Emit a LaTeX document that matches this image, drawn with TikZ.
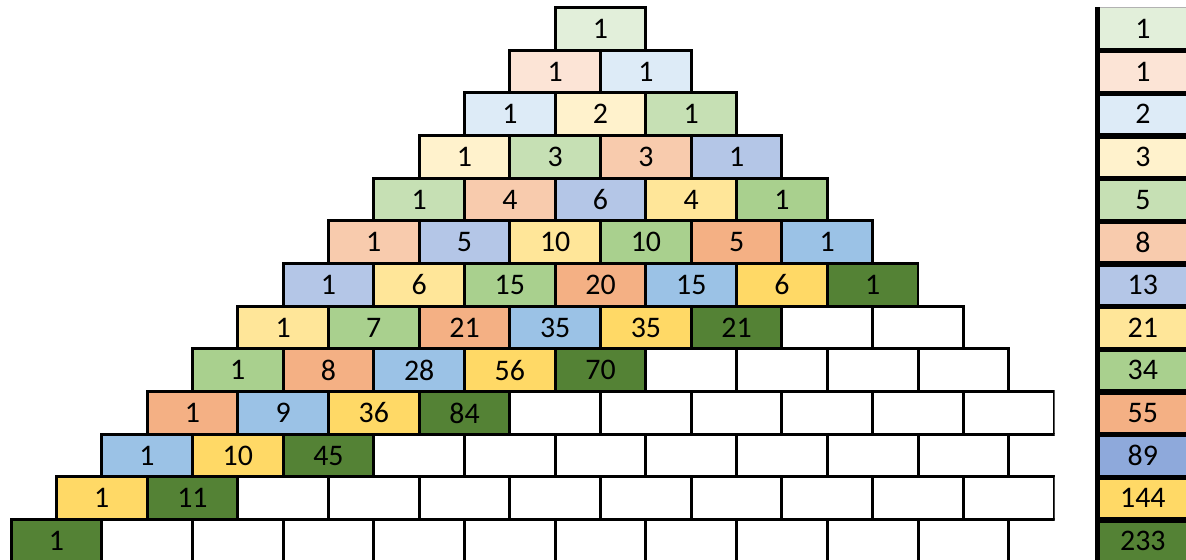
\documentclass[tikz,border=0pt]{standalone}
\usepackage{xcolor}
\usepackage{fontspec}
\setmainfont{Carlito}
\usepackage{tikz}

\definecolor{diag0}{HTML}{E2EFDA}
\definecolor{diag1}{HTML}{FCE4D6}
\definecolor{diag2}{HTML}{DDEBF7}
\definecolor{diag3}{HTML}{FFF2CC}
\definecolor{diag4}{HTML}{C6E0B4}
\definecolor{diag5}{HTML}{F8CBAD}
\definecolor{diag6}{HTML}{B4C6E7}
\definecolor{diag7}{HTML}{FFE699}
\definecolor{diag8}{HTML}{A9D08E}
\definecolor{diag9}{HTML}{F4B084}
\definecolor{diag10}{HTML}{9BC2E6}
\definecolor{diag10b}{HTML}{8EA9DB}
\definecolor{diag11}{HTML}{FFD966}
\definecolor{diag12}{HTML}{548235}

\newcount\pascalval

\begin{document}
\begin{tikzpicture}[
    x=0.02cm, y=-0.02cm,
    brick/.style={rectangle, draw=black, line width=1.7pt, minimum width=1.814cm, minimum height=0.853cm, inner sep=0pt, font=\fontsize{17}{20}\selectfont},
    fibbox/.style={rectangle, minimum width=1.814cm, minimum height=0.853cm, inner sep=0pt, font=\fontsize{17}{20}\selectfont},
    sepline/.style={line width=3pt, draw=black},
  ]
  \clip (0,0) rectangle (1186,560);
  % pascal triangle, cut off where the sheet stops
  \begin{scope}
    \clip (0,0) rectangle (1054.5,560);
    \foreach \r in {0,...,12}{
      \foreach \k in {0,...,\r}{
        \pgfmathtruncatemacro\sumrk{\r+\k}
        \ifnum\k=0 \global\pascalval=1 \else \global\pascalval=\numexpr\pascalval*(\r-\k+1)/\k\relax\fi
        \ifnum\sumrk<13
          \node [brick, fill=diag\sumrk] (p-\r-\k) at (600.55-45.35*\r+90.7*\k, 28.9+42.67*\r) {\the\pascalval};
        \else
          \node [brick, fill=white] (p-\r-\k) at (600.55-45.35*\r+90.7*\k, 28.9+42.67*\r) {};
        \fi
      }
    }
  \end{scope}
  % diagonal sums
  \foreach \v [count=\i from 0] in {1,1,2,3,5,8,13,21,34,55,89,144,233}{
    \ifnum\i=10 \def\fcol{diag10b}\else \def\fcol{diag\i}\fi
    \node [fibbox, fill=\fcol] (f-\i) at (1142.85, 28.9+42.67*\i) {\v};
  }
  \draw [gray!60, thin] (f-0.north west) -- (f-0.north east);
  \foreach \i in {0,...,11}
    \draw [sepline] (f-\i.south west) -- (f-\i.south east);
  \draw [sepline] (f-0.north west) -- (f-12.south west);
\end{tikzpicture}
\end{document}
